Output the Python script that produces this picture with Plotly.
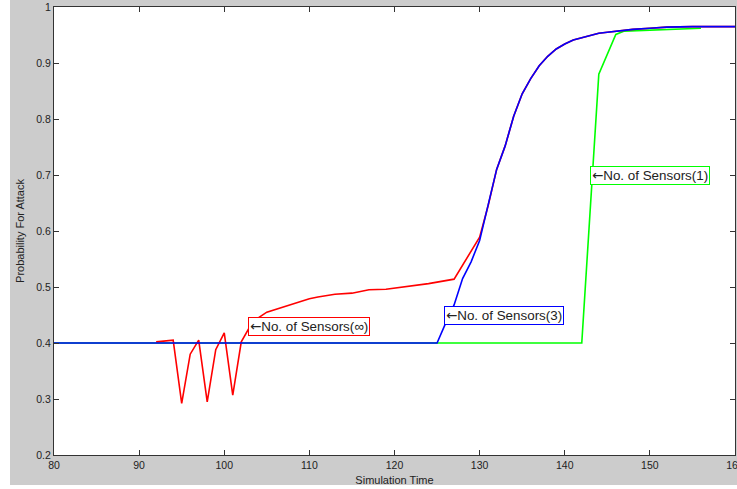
import plotly.graph_objects as go

# ---- data ----
red_x = [92, 93, 94, 95, 96, 97, 98, 99, 100, 101, 102, 103, 104, 105, 106, 107, 108,
         110, 111, 113, 115, 117, 119, 121, 124, 127, 130]
red_y = [0.402, 0.404, 0.405, 0.292, 0.380, 0.405, 0.295, 0.388, 0.418, 0.307, 0.402,
         0.429, 0.445, 0.455, 0.460, 0.465, 0.470, 0.479, 0.482, 0.487, 0.489, 0.495,
         0.496, 0.500, 0.506, 0.514, 0.589]

blue_x = [80, 125, 126, 127, 128, 129, 130]
blue_y = [0.400, 0.400, 0.435, 0.468, 0.515, 0.545, 0.583]

common_x = [131, 132, 133, 134, 135, 136, 137, 138, 139, 140, 141, 142, 143, 144, 145,
            146, 147, 148, 150, 152, 155, 160]
common_y = [0.645, 0.710, 0.752, 0.805, 0.845, 0.872, 0.895, 0.912, 0.925, 0.934, 0.941,
            0.945, 0.950, 0.953, 0.955, 0.957, 0.959, 0.960, 0.962, 0.964, 0.965, 0.965]

green_x = [80, 142, 144, 146, 147, 150, 153, 156]
green_y = [0.400, 0.400, 0.880, 0.951, 0.957, 0.959, 0.961, 0.962]

x_ticks = [80, 90, 100, 110, 120, 130, 140, 150, 160]
y_ticks = [0.2, 0.3, 0.4, 0.5, 0.6, 0.7, 0.8, 0.9, 1.0]
y_tick_text = ["0.2", "0.3", "0.4", "0.5", "0.6", "0.7", "0.8", "0.9", "1"]

arrow = '<span style="font-family:DejaVu Sans">\u2190</span>'
labels = [arrow + "No. of Sensors(\u221e)", arrow + "No. of Sensors(3)", arrow + "No. of Sensors(1)"]
label_x = [102.8, 125.85, 142.97]
label_y = [0.430, 0.449, 0.700]
label_colors = ["#ff0000", "#0000ff", "#00ff00"]

FONT = "Liberation Sans, Arial, sans-serif"

fig = go.Figure()
fig.add_trace(go.Scatter(x=green_x, y=green_y, mode="lines",
                         line=dict(color="#00ff00", width=1.6), showlegend=False))
fig.add_trace(go.Scatter(x=red_x + common_x, y=red_y + common_y, mode="lines",
                         line=dict(color="#ff0000", width=1.6), showlegend=False))
fig.add_trace(go.Scatter(x=blue_x + common_x, y=blue_y + common_y, mode="lines",
                         line=dict(color="#0000ff", width=1.6), showlegend=False))

for t, lx, ly, c in zip(labels, label_x, label_y, label_colors):
    fig.add_annotation(x=lx, y=ly, xref="x", yref="y", text=t, showarrow=False,
                       xanchor="left", yanchor="middle",
                       font=dict(family=FONT, size=13.4, color="#222222"),
                       bordercolor=c, borderwidth=1, borderpad=1, bgcolor="white")

# white strips outside the grey figure area
fig.add_shape(type="rect", xref="paper", yref="paper", x0=-0.1, x1=-0.0646, y0=-0.2, y1=1.1,
              fillcolor="white", line=dict(width=0), layer="below")
fig.add_shape(type="rect", xref="paper", yref="paper", x0=-0.1, x1=1.1, y0=-0.2, y1=-0.067,
              fillcolor="white", line=dict(width=0), layer="below")

axis_common = dict(showgrid=False, zeroline=False, showline=True, linecolor="#333333",
                   linewidth=1, mirror="ticks", ticks="inside", ticklen=5,
                   tickcolor="#333333", ticklabeloverflow="allow",
                   tickfont=dict(family=FONT, size=10.5, color="#222222"))

fig.update_layout(
    width=737, height=489,
    margin=dict(l=54, r=2, t=7, b=34, autoexpand=False),
    paper_bgcolor="#cccccc", plot_bgcolor="white",
    xaxis=dict(range=[80, 160], tickvals=x_ticks, ticktext=[str(v) for v in x_ticks],
               title=dict(text="Simulation Time", font=dict(family=FONT, size=11, color="#222222"),
                          standoff=6),
               **axis_common),
    yaxis=dict(range=[0.2, 1.0], tickvals=y_ticks, ticktext=y_tick_text,
               title=dict(text="Probability For Attack", font=dict(family=FONT, size=11, color="#222222"),
                          standoff=9),
               **axis_common),
)

fig.write_html("out.html", config={"displayModeBar": False},
               post_script="document.body.style.margin='0';document.body.style.overflow='hidden';")
